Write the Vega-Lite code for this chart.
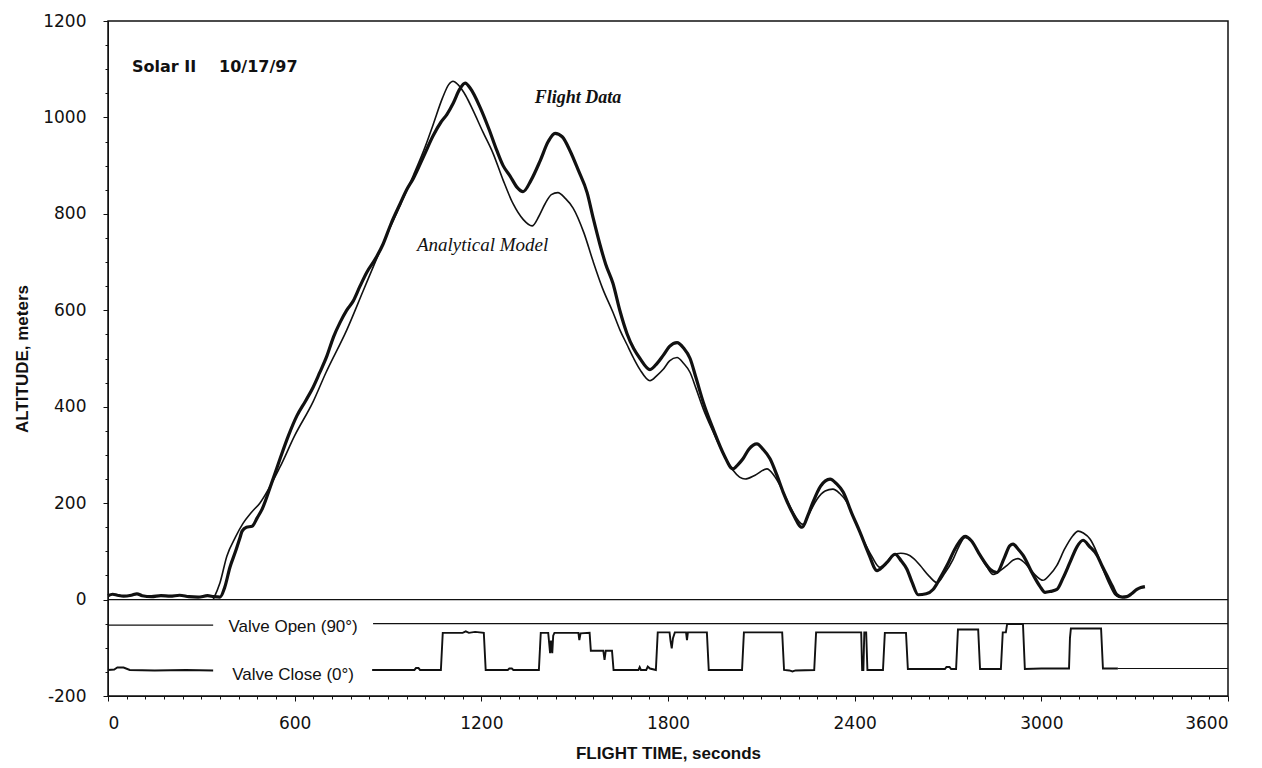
{
  "$schema": "https://vega.github.io/schema/vega-lite/v6.json",
  "width": 1120,
  "height": 675,
  "autosize": {"type": "none"},
  "padding": {"left": 108, "top": 21, "right": 34, "bottom": 72},
  "background": "white",
  "config": {
    "view": {"stroke": "#111", "strokeWidth": 1.5},
    "axis": {"grid": false, "labelFont": "DejaVu Sans", "labelFontSize": 17, "labelColor": "#111", "tickColor": "#111", "domainColor": "#111", "titleColor": "#111", "titleFont": "Liberation Sans", "titleFontWeight": "bold", "titleFontSize": 17}
  },
  "datasets": {
    "flight": [
      {"t":0,"alt":8},{"t":15,"alt":11},{"t":30,"alt":9},{"t":50,"alt":7},{"t":75,"alt":9},{"t":93,"alt":12},{"t":110,"alt":8},{"t":140,"alt":6},{"t":170,"alt":8},{"t":200,"alt":7},{"t":230,"alt":9},{"t":260,"alt":6},{"t":290,"alt":5},{"t":320,"alt":8},{"t":340,"alt":6},{"t":360,"alt":5},{"t":375,"alt":25},{"t":392,"alt":67},{"t":410,"alt":100},{"t":425,"alt":130},{"t":431,"alt":142},{"t":445,"alt":150},{"t":463,"alt":152},{"t":480,"alt":170},{"t":495,"alt":187},{"t":525,"alt":240},{"t":553,"alt":292},{"t":580,"alt":340},{"t":607,"alt":381},{"t":635,"alt":412},{"t":659,"alt":440},{"t":680,"alt":470},{"t":704,"alt":506},{"t":725,"alt":545},{"t":746,"alt":575},{"t":767,"alt":600},{"t":788,"alt":619},{"t":810,"alt":650},{"t":832,"alt":679},{"t":858,"alt":705},{"t":884,"alt":737},{"t":910,"alt":780},{"t":939,"alt":821},{"t":960,"alt":850},{"t":981,"alt":873},{"t":1015,"alt":920},{"t":1045,"alt":962},{"t":1070,"alt":990},{"t":1089,"alt":1006},{"t":1110,"alt":1030},{"t":1130,"alt":1058},{"t":1148,"alt":1071},{"t":1165,"alt":1060},{"t":1196,"alt":1021},{"t":1225,"alt":975},{"t":1250,"alt":931},{"t":1270,"alt":900},{"t":1292,"alt":879},{"t":1315,"alt":855},{"t":1334,"alt":846},{"t":1360,"alt":870},{"t":1389,"alt":910},{"t":1415,"alt":950},{"t":1437,"alt":967},{"t":1460,"alt":960},{"t":1485,"alt":931},{"t":1512,"alt":890},{"t":1540,"alt":844},{"t":1560,"alt":790},{"t":1581,"alt":737},{"t":1600,"alt":695},{"t":1623,"alt":656},{"t":1645,"alt":600},{"t":1668,"alt":552},{"t":1690,"alt":520},{"t":1710,"alt":500},{"t":1742,"alt":477},{"t":1765,"alt":490},{"t":1784,"alt":506},{"t":1805,"alt":525},{"t":1829,"alt":533},{"t":1850,"alt":522},{"t":1871,"alt":500},{"t":1890,"alt":460},{"t":1913,"alt":410},{"t":1945,"alt":354},{"t":1980,"alt":300},{"t":2009,"alt":271},{"t":2025,"alt":280},{"t":2041,"alt":292},{"t":2060,"alt":312},{"t":2086,"alt":323},{"t":2105,"alt":312},{"t":2128,"alt":292},{"t":2150,"alt":258},{"t":2170,"alt":223},{"t":2200,"alt":180},{"t":2231,"alt":150},{"t":2250,"alt":175},{"t":2266,"alt":202},{"t":2290,"alt":235},{"t":2321,"alt":250},{"t":2342,"alt":240},{"t":2363,"alt":223},{"t":2390,"alt":180},{"t":2417,"alt":140},{"t":2445,"alt":95},{"t":2472,"alt":60},{"t":2490,"alt":68},{"t":2504,"alt":77},{"t":2530,"alt":94},{"t":2550,"alt":80},{"t":2568,"alt":63},{"t":2585,"alt":35},{"t":2604,"alt":10},{"t":2630,"alt":12},{"t":2652,"alt":21},{"t":2675,"alt":45},{"t":2697,"alt":71},{"t":2725,"alt":108},{"t":2755,"alt":131},{"t":2775,"alt":122},{"t":2803,"alt":92},{"t":2835,"alt":63},{"t":2857,"alt":56},{"t":2880,"alt":85},{"t":2899,"alt":112},{"t":2909,"alt":115},{"t":2925,"alt":105},{"t":2941,"alt":92},{"t":2973,"alt":52},{"t":2995,"alt":28},{"t":3012,"alt":15},{"t":3030,"alt":17},{"t":3050,"alt":21},{"t":3070,"alt":45},{"t":3092,"alt":77},{"t":3115,"alt":110},{"t":3134,"alt":123},{"t":3155,"alt":110},{"t":3179,"alt":92},{"t":3195,"alt":70},{"t":3211,"alt":50},{"t":3228,"alt":28},{"t":3243,"alt":10},{"t":3260,"alt":5},{"t":3275,"alt":6},{"t":3290,"alt":12},{"t":3307,"alt":21},{"t":3320,"alt":25},{"t":3333,"alt":27}
    ],
    "model": [
      {"t":338,"alt":0},{"t":360,"alt":35},{"t":382,"alt":90},{"t":410,"alt":130},{"t":434,"alt":158},{"t":460,"alt":180},{"t":488,"alt":200},{"t":553,"alt":275},{"t":600,"alt":340},{"t":659,"alt":410},{"t":700,"alt":470},{"t":768,"alt":560},{"t":820,"alt":640},{"t":874,"alt":723},{"t":930,"alt":805},{"t":981,"alt":879},{"t":1020,"alt":940},{"t":1045,"alt":985},{"t":1075,"alt":1040},{"t":1095,"alt":1068},{"t":1109,"alt":1075},{"t":1125,"alt":1068},{"t":1150,"alt":1045},{"t":1173,"alt":1015},{"t":1205,"alt":970},{"t":1238,"alt":925},{"t":1270,"alt":870},{"t":1302,"alt":821},{"t":1335,"alt":788},{"t":1363,"alt":775},{"t":1385,"alt":795},{"t":1405,"alt":821},{"t":1425,"alt":840},{"t":1446,"alt":844},{"t":1470,"alt":832},{"t":1495,"alt":812},{"t":1530,"alt":760},{"t":1559,"alt":702},{"t":1590,"alt":645},{"t":1623,"alt":596},{"t":1645,"alt":560},{"t":1668,"alt":529},{"t":1690,"alt":500},{"t":1710,"alt":477},{"t":1742,"alt":454},{"t":1765,"alt":465},{"t":1784,"alt":477},{"t":1805,"alt":495},{"t":1829,"alt":502},{"t":1850,"alt":490},{"t":1871,"alt":471},{"t":1890,"alt":438},{"t":1913,"alt":396},{"t":1945,"alt":348},{"t":1980,"alt":300},{"t":2009,"alt":268},{"t":2030,"alt":254},{"t":2048,"alt":250},{"t":2080,"alt":258},{"t":2118,"alt":271},{"t":2140,"alt":258},{"t":2160,"alt":237},{"t":2180,"alt":210},{"t":2202,"alt":181},{"t":2234,"alt":156},{"t":2255,"alt":180},{"t":2279,"alt":208},{"t":2305,"alt":225},{"t":2330,"alt":229},{"t":2352,"alt":220},{"t":2375,"alt":202},{"t":2400,"alt":165},{"t":2427,"alt":125},{"t":2455,"alt":90},{"t":2481,"alt":67},{"t":2503,"alt":78},{"t":2523,"alt":92},{"t":2548,"alt":96},{"t":2568,"alt":94},{"t":2590,"alt":85},{"t":2610,"alt":71},{"t":2640,"alt":48},{"t":2665,"alt":35},{"t":2690,"alt":55},{"t":2716,"alt":83},{"t":2735,"alt":110},{"t":2755,"alt":129},{"t":2775,"alt":122},{"t":2800,"alt":95},{"t":2825,"alt":68},{"t":2845,"alt":52},{"t":2868,"alt":60},{"t":2890,"alt":71},{"t":2910,"alt":82},{"t":2925,"alt":85},{"t":2945,"alt":77},{"t":2964,"alt":63},{"t":2985,"alt":48},{"t":3005,"alt":40},{"t":3025,"alt":50},{"t":3050,"alt":71},{"t":3075,"alt":105},{"t":3102,"alt":133},{"t":3118,"alt":142},{"t":3135,"alt":138},{"t":3157,"alt":125},{"t":3178,"alt":98},{"t":3198,"alt":63},{"t":3220,"alt":30},{"t":3237,"alt":10},{"t":3250,"alt":5}
    ],
    "valve": [
      {"seg":1,"t":0,"v":-146},{"seg":1,"t":20,"v":-145},{"seg":1,"t":30,"v":-141},{"seg":1,"t":50,"v":-141},{"seg":1,"t":70,"v":-146},{"seg":1,"t":150,"v":-147},{"seg":1,"t":250,"v":-146},{"seg":1,"t":338,"v":-147},
      {"seg":2,"t":849,"v":-146},{"seg":2,"t":985,"v":-146},{"seg":2,"t":990,"v":-142},{"seg":2,"t":998,"v":-142},{"seg":2,"t":1003,"v":-146},{"seg":2,"t":1070,"v":-146},{"seg":2,"t":1076,"v":-69},{"seg":2,"t":1140,"v":-69},{"seg":2,"t":1150,"v":-66},{"seg":2,"t":1160,"v":-69},{"seg":2,"t":1180,"v":-67},{"seg":2,"t":1208,"v":-69},{"seg":2,"t":1214,"v":-146},{"seg":2,"t":1285,"v":-146},{"seg":2,"t":1290,"v":-143},{"seg":2,"t":1298,"v":-143},{"seg":2,"t":1303,"v":-146},{"seg":2,"t":1385,"v":-146},{"seg":2,"t":1391,"v":-69},{"seg":2,"t":1415,"v":-69},{"seg":2,"t":1418,"v":-90},{"seg":2,"t":1421,"v":-111},{"seg":2,"t":1424,"v":-85},{"seg":2,"t":1428,"v":-111},{"seg":2,"t":1431,"v":-75},{"seg":2,"t":1435,"v":-69},{"seg":2,"t":1512,"v":-69},{"seg":2,"t":1515,"v":-84},{"seg":2,"t":1519,"v":-70},{"seg":2,"t":1548,"v":-69},{"seg":2,"t":1552,"v":-106},{"seg":2,"t":1592,"v":-106},{"seg":2,"t":1596,"v":-125},{"seg":2,"t":1600,"v":-106},{"seg":2,"t":1620,"v":-106},{"seg":2,"t":1625,"v":-146},{"seg":2,"t":1705,"v":-146},{"seg":2,"t":1709,"v":-140},{"seg":2,"t":1713,"v":-146},{"seg":2,"t":1730,"v":-146},{"seg":2,"t":1735,"v":-139},{"seg":2,"t":1742,"v":-143},{"seg":2,"t":1761,"v":-146},{"seg":2,"t":1767,"v":-68},{"seg":2,"t":1805,"v":-68},{"seg":2,"t":1808,"v":-85},{"seg":2,"t":1812,"v":-101},{"seg":2,"t":1816,"v":-80},{"seg":2,"t":1822,"v":-68},{"seg":2,"t":1858,"v":-68},{"seg":2,"t":1861,"v":-84},{"seg":2,"t":1864,"v":-68},{"seg":2,"t":1925,"v":-68},{"seg":2,"t":1931,"v":-146},{"seg":2,"t":2038,"v":-146},{"seg":2,"t":2044,"v":-68},{"seg":2,"t":2167,"v":-68},{"seg":2,"t":2173,"v":-146},{"seg":2,"t":2190,"v":-147},{"seg":2,"t":2200,"v":-149},{"seg":2,"t":2210,"v":-147},{"seg":2,"t":2270,"v":-146},{"seg":2,"t":2276,"v":-68},{"seg":2,"t":2421,"v":-68},{"seg":2,"t":2424,"v":-146},{"seg":2,"t":2428,"v":-146},{"seg":2,"t":2431,"v":-68},{"seg":2,"t":2437,"v":-68},{"seg":2,"t":2441,"v":-146},{"seg":2,"t":2491,"v":-146},{"seg":2,"t":2497,"v":-69},{"seg":2,"t":2565,"v":-69},{"seg":2,"t":2571,"v":-144},{"seg":2,"t":2690,"v":-144},{"seg":2,"t":2695,"v":-140},{"seg":2,"t":2705,"v":-140},{"seg":2,"t":2710,"v":-144},{"seg":2,"t":2726,"v":-144},{"seg":2,"t":2732,"v":-62},{"seg":2,"t":2797,"v":-62},{"seg":2,"t":2803,"v":-144},{"seg":2,"t":2870,"v":-144},{"seg":2,"t":2876,"v":-68},{"seg":2,"t":2886,"v":-68},{"seg":2,"t":2890,"v":-51},{"seg":2,"t":2941,"v":-51},{"seg":2,"t":2947,"v":-144},{"seg":2,"t":3000,"v":-143},{"seg":2,"t":3089,"v":-143},{"seg":2,"t":3092,"v":-80},{"seg":2,"t":3095,"v":-60},{"seg":2,"t":3192,"v":-60},{"seg":2,"t":3198,"v":-143},{"seg":2,"t":3246,"v":-143}
    ],
    "refs": [
      {"t1":0,"t2":3600,"v":0},
      {"t1":0,"t2":338,"v":-53},
      {"t1":852,"t2":3600,"v":-50},
      {"t1":3246,"t2":3600,"v":-143}
    ]
  },
  "layer": [
    {
      "data": {"name": "refs"},
      "mark": {"type": "rule", "color": "#111", "strokeWidth": 1.2},
      "encoding": {
        "x": {"field": "t1", "type": "quantitative", "scale": {"domain": [0, 3600], "nice": false, "zero": false},
          "axis": {"orient": "bottom", "values": [0,600,1200,1800,2400,3000,3600], "labelExpr": "'' + datum.value", "tickSize": 5, "labelPadding": 14, "title": "FLIGHT TIME, seconds", "titlePadding": 14, "domain": true}},
        "x2": {"field": "t2"},
        "y": {"field": "v", "type": "quantitative", "scale": {"domain": [-200, 1200], "nice": false, "zero": false},
          "axis": {"orient": "left", "values": [-200,0,200,400,600,800,1000,1200], "labelExpr": "'' + datum.value", "tickSize": 5, "labelPadding": 17, "title": "ALTITUDE, meters", "titlePadding": 11, "domain": true}}
      }
    },
    {
      "data": {"name": "valve"},
      "mark": {"type": "line", "color": "#111", "strokeWidth": 1.9},
      "encoding": {
        "x": {"field": "t", "type": "quantitative",
          "axis": {"orient": "bottom", "values": [60,120,180,240,300,360,420,480,540,660,720,780,840,900,960,1020,1080,1140,1260,1320,1380,1440,1500,1560,1620,1680,1740,1860,1920,1980,2040,2100,2160,2220,2280,2340,2460,2520,2580,2640,2700,2760,2820,2880,2940,3060,3120,3180,3240,3300,3360,3420,3480,3540], "tickSize": 3, "labels": false, "domain": false, "title": null}},
        "y": {"field": "v", "type": "quantitative",
          "axis": {"orient": "left", "values": [-150,-100,-50,50,100,150,250,300,350,450,500,550,650,700,750,850,900,950,1050,1100,1150], "tickSize": 3, "labels": false, "domain": false, "title": null}},
        "detail": {"field": "seg"}
      }
    },
    {
      "data": {"name": "model"},
      "mark": {"type": "line", "color": "#111", "strokeWidth": 1.6, "interpolate": "monotone"},
      "encoding": {
        "x": {"field": "t", "type": "quantitative", "axis": null},
        "y": {"field": "alt", "type": "quantitative", "axis": null}
      }
    },
    {
      "data": {"name": "flight"},
      "mark": {"type": "line", "color": "#111", "strokeWidth": 3.2, "interpolate": "monotone"},
      "encoding": {
        "x": {"field": "t", "type": "quantitative", "axis": null},
        "y": {"field": "alt", "type": "quantitative", "axis": null}
      }
    },
    {
      "data": {"values": [{"t": 77, "alt": 1094, "label": "Solar II"}, {"t": 357, "alt": 1094, "label": "10/17/97"}]},
      "mark": {"type": "text", "font": "DejaVu Sans", "fontWeight": "bold", "fontSize": 16, "align": "left", "baseline": "alphabetic", "color": "#111"},
      "encoding": {
        "x": {"field": "t", "type": "quantitative", "axis": null},
        "y": {"field": "alt", "type": "quantitative", "axis": null},
        "text": {"field": "label"}
      }
    },
    {
      "data": {"values": [{"t": 1511, "alt": 1029, "label": "Flight Data"}]},
      "mark": {"type": "text", "font": "Liberation Serif", "fontWeight": "bold", "fontStyle": "italic", "fontSize": 18, "align": "center", "baseline": "alphabetic", "color": "#111"},
      "encoding": {
        "x": {"field": "t", "type": "quantitative", "axis": null},
        "y": {"field": "alt", "type": "quantitative", "axis": null},
        "text": {"field": "label"}
      }
    },
    {
      "data": {"values": [{"t": 1204, "alt": 724, "label": "Analytical Model"}]},
      "mark": {"type": "text", "font": "Liberation Serif", "fontStyle": "italic", "fontSize": 19, "align": "center", "baseline": "alphabetic", "color": "#111"},
      "encoding": {
        "x": {"field": "t", "type": "quantitative", "axis": null},
        "y": {"field": "alt", "type": "quantitative", "axis": null},
        "text": {"field": "label"}
      }
    },
    {
      "data": {"values": [{"t": 595, "alt": -66.6, "label": "Valve Open (90°)"}, {"t": 595, "alt": -166.8, "label": "Valve Close (0°)"}]},
      "mark": {"type": "text", "font": "Liberation Sans", "fontSize": 17, "align": "center", "baseline": "alphabetic", "color": "#111"},
      "encoding": {
        "x": {"field": "t", "type": "quantitative", "axis": null},
        "y": {"field": "alt", "type": "quantitative", "axis": null},
        "text": {"field": "label"}
      }
    }
  ],
  "resolve": {"axis": {"x": "independent", "y": "independent"}}
}
